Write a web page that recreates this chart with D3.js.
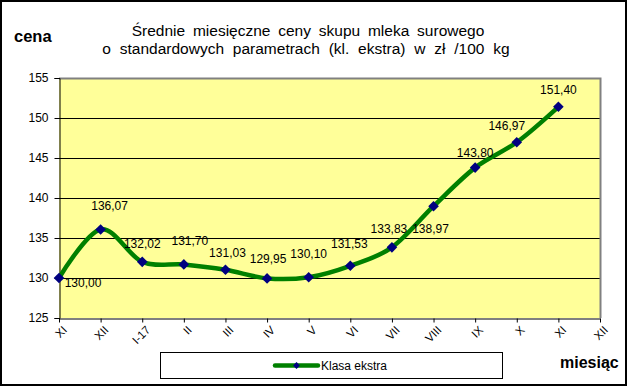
<!DOCTYPE html>
<html>
<head>
<meta charset="utf-8">
<script src="https://cdn.jsdelivr.net/npm/d3@7"></script>
<style>
	body { margin: 0; background: #fff; }
	svg { display: block; font-family: Arial, "Liberation Sans", sans-serif; }
</style>
</head>
<body>
<svg id="chart" width="628" height="388"></svg>
<script>
'use strict';

// months on the category axis (last one has no value)
var months = ['XI', 'XII', 'I-17', 'II', 'III', 'IV', 'V', 'VI', 'VII', 'VIII', 'IX', 'X', 'XI', 'XII'];
var prices = [130.00, 136.07, 132.02, 131.70, 131.03, 129.95, 130.10, 131.53, 133.83, 138.97, 143.80, 146.97, 151.40];
var yTicks = [125, 130, 135, 140, 145, 150, 155];
var seriesName = 'Klasa ekstra';

// hand placed data labels in the original, offset from the point
var labelDx = [24, 9, 0, 6, 2, 1, 0, -1, -3, -3, 0, -10, 0];
var labelDy = [9, -19, -14, -19, -13, -15, -19, -18, -14, 27, -11, -12, -13];

var svg = d3.select('#chart');
var W = 628, H = 388;
var plot = { left: 59, right: 600, top: 78, bottom: 318 };

svg.append('rect')
	.attr('x', 1).attr('y', 1)
	.attr('width', W - 3).attr('height', H - 4)
	.attr('fill', '#fff')
	.attr('stroke', '#000')
	.attr('stroke-width', 2);

var x = d3.scalePoint()
	.domain(d3.range(months.length))
	.range([plot.left, plot.right]);

var y = d3.scaleLinear()
	.domain([125, 155])
	.range([plot.bottom, plot.top]);

// plot area
svg.append('rect')
	.attr('x', plot.left).attr('y', plot.top)
	.attr('width', plot.right - plot.left).attr('height', plot.bottom - plot.top)
	.attr('fill', '#ffff99');

svg.append('g')
	.selectAll('line')
	.data(yTicks.filter(function(d) { return d > 125 && d < 155; }))
	.enter()
	.append('line')
	.attr('x1', plot.left).attr('x2', plot.right)
	.attr('y1', function(d) { return Math.round(y(d)) + 0.5; })
	.attr('y2', function(d) { return Math.round(y(d)) + 0.5; })
	.attr('stroke', '#000');

// gray border top/right
svg.append('path')
	.attr('d', 'M' + plot.left + ',' + (plot.top + 0.5) + 'H' + (plot.right + 0.5) + 'V' + plot.bottom)
	.attr('fill', 'none')
	.attr('stroke', '#808080')
	.attr('stroke-width', 2);

// y axis
var yAxis = svg.append('g')
	.attr('transform', 'translate(' + (plot.left + 0.5) + ',0)')
	.call(d3.axisLeft(y).tickValues(yTicks).tickSize(5).tickPadding(6).tickFormat(d3.format('d')));
yAxis.select('.domain').attr('stroke', '#000');
yAxis.selectAll('line').attr('stroke', '#000');
yAxis.selectAll('text')
	.attr('font-size', 12)
	.attr('font-family', 'Arial, "Liberation Sans", sans-serif')
	.attr('fill', '#000');

// x axis
var xAxis = svg.append('g')
	.attr('transform', 'translate(0,' + (plot.bottom + 0.5) + ')')
	.call(d3.axisBottom(x).tickSize(4).tickSizeOuter(0).tickFormat(''));
xAxis.select('.domain').attr('stroke', '#000');
xAxis.selectAll('line').attr('stroke', '#000');

svg.append('g')
	.selectAll('text')
	.data(months)
	.enter()
	.append('text')
	.attr('transform', function(d, i) {
		return 'translate(' + (x(i) + 3) + ',' + (plot.bottom + 7) + ') rotate(-45)';
	})
	.attr('text-anchor', 'end')
	.attr('dy', '0.7em')
	.attr('font-size', 11.5)
	.text(function(d) { return d; });

// series
var line = d3.line()
	.x(function(d, i) { return x(i); })
	.y(function(d) { return y(d); })
	.curve(d3.curveCardinal.tension(0));

svg.append('path')
	.datum(prices)
	.attr('d', line)
	.attr('fill', 'none')
	.attr('stroke', '#008000')
	.attr('stroke-width', 4.5)
	.attr('stroke-linejoin', 'round');

var diamond = d3.symbol().type(d3.symbolDiamond2).size(72);

svg.append('g')
	.selectAll('path')
	.data(prices)
	.enter()
	.append('path')
	.attr('d', diamond)
	.attr('transform', function(d, i) { return 'translate(' + x(i) + ',' + y(d) + ')'; })
	.attr('fill', '#000080');

svg.append('g')
	.selectAll('text')
	.data(prices)
	.enter()
	.append('text')
	.attr('x', function(d, i) { return x(i) + labelDx[i]; })
	.attr('y', function(d, i) { return y(d) + labelDy[i]; })
	.attr('text-anchor', 'middle')
	.attr('font-size', 12)
	.text(function(d) { return d.toFixed(2).replace('.', ','); });

// titles
var title = svg.append('text')
	.attr('x', 307)
	.attr('text-anchor', 'middle')
	.attr('font-size', 15.5);
title.append('tspan').attr('x', 308).attr('y', 36).attr('word-spacing', 3.5)
	.text('Średnie miesięczne ceny skupu mleka surowego');
title.append('tspan').attr('x', 306).attr('y', 54).attr('word-spacing', 4.5)
	.text('o standardowych parametrach (kl. ekstra) w zł /100 kg');

svg.append('text')
	.attr('x', 14).attr('y', 42)
	.attr('font-size', 16.5)
	.attr('font-weight', 'bold')
	.text('cena');

svg.append('text')
	.attr('x', 560).attr('y', 368)
	.attr('font-size', 16)
	.attr('font-weight', 'bold')
	.text('miesiąc');

// legend
var legend = svg.append('g');
legend.append('rect')
	.attr('x', 160.5).attr('y', 352.5)
	.attr('width', 342).attr('height', 26)
	.attr('fill', '#fff')
	.attr('stroke', '#000');
legend.append('line')
	.attr('x1', 275).attr('x2', 318)
	.attr('y1', 365.5).attr('y2', 365.5)
	.attr('stroke', '#008000')
	.attr('stroke-width', 4.5)
	.attr('stroke-linecap', 'round');
legend.append('path')
	.attr('d', d3.symbol().type(d3.symbolDiamond2).size(30))
	.attr('transform', 'translate(296.5,365.5)')
	.attr('fill', '#000080');
legend.append('text')
	.attr('x', 321).attr('y', 370)
	.attr('font-size', 12)
	.text(seriesName);
</script>
</body>
</html>
